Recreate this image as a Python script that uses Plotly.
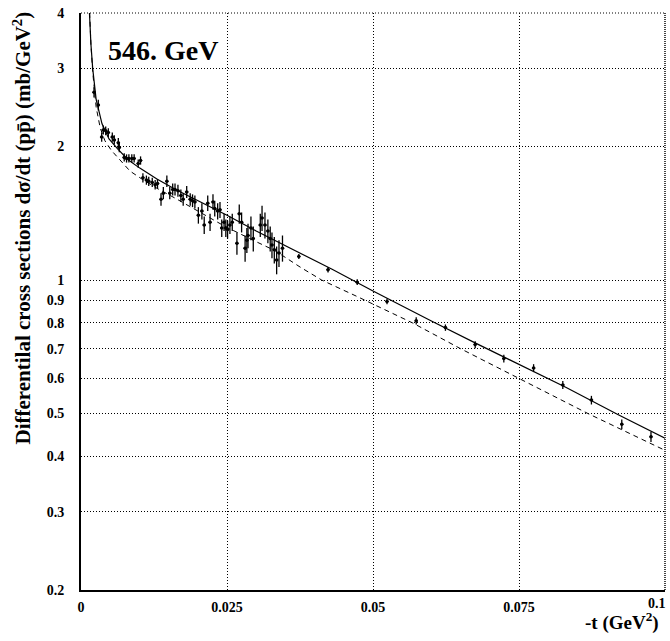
import plotly.graph_objects as go

# ---- data ----
t_data = [0.00223, 0.00296, 0.00354, 0.00382, 0.00423, 0.00468, 0.00536, 0.0057, 0.00639, 0.00656,
          0.0074, 0.0078, 0.0082, 0.0087, 0.0091, 0.0098, 0.0102,
          0.0106, 0.0112, 0.0116, 0.0122, 0.0127, 0.0131, 0.0137, 0.0141, 0.0147, 0.0152,
          0.0157, 0.0161, 0.0166, 0.0171, 0.0175, 0.0181, 0.0187, 0.0191, 0.0195, 0.0201,
          0.0207, 0.0211, 0.0217, 0.0221, 0.0226, 0.0229, 0.0234, 0.0238, 0.0241, 0.0245,
          0.0248, 0.0251, 0.0255, 0.0259, 0.0267, 0.0271, 0.0275, 0.0281, 0.0284, 0.0286,
          0.0291, 0.0295, 0.0307, 0.0310, 0.0315, 0.0320, 0.0324, 0.0327, 0.0331, 0.0335,
          0.0339, 0.0345,
          0.0373, 0.0423, 0.0473, 0.0524, 0.0574, 0.0624, 0.0675, 0.0724, 0.0775, 0.0825,
          0.0874, 0.0926, 0.0976]
y_data = [2.65, 2.48, 2.10, 2.18, 2.17, 2.15, 2.10, 2.07, 2.04, 1.99,
          1.89, 1.88, 1.88, 1.88, 1.88, 1.83, 1.86,
          1.70, 1.68, 1.67, 1.66, 1.64, 1.65, 1.52, 1.57, 1.67, 1.57,
          1.60, 1.60, 1.59, 1.55, 1.52, 1.58, 1.52, 1.51, 1.50, 1.40,
          1.43, 1.33, 1.49, 1.35, 1.50, 1.45, 1.43, 1.44, 1.31, 1.35,
          1.31, 1.30, 1.33, 1.35, 1.21, 1.41, 1.35, 1.18, 1.23, 1.26,
          1.31, 1.24, 1.33, 1.38, 1.33, 1.29, 1.24, 1.20, 1.17, 1.11,
          1.15, 1.18,
          1.13, 1.055, 0.989, 0.895, 0.809, 0.781, 0.715, 0.665, 0.633, 0.580,
          0.536, 0.473, 0.443]
y_err = [0.07, 0.07, 0.05, 0.05, 0.05, 0.05, 0.05, 0.05, 0.05, 0.05,
         0.04, 0.04, 0.04, 0.04, 0.04, 0.04, 0.04,
         0.04, 0.04, 0.04, 0.04, 0.04, 0.04, 0.05, 0.05, 0.05, 0.05,
         0.05, 0.05, 0.05, 0.05, 0.05, 0.05, 0.05, 0.05, 0.05, 0.06,
         0.06, 0.06, 0.06, 0.06, 0.06, 0.06, 0.06, 0.06, 0.06, 0.06,
         0.06, 0.06, 0.06, 0.06, 0.07, 0.07, 0.07, 0.08, 0.08, 0.08,
         0.08, 0.08, 0.08, 0.09, 0.09, 0.08, 0.08, 0.08, 0.08, 0.08,
         0.08, 0.08,
         0.015, 0.015, 0.015, 0.013, 0.015, 0.013, 0.013, 0.013, 0.013, 0.012,
         0.012, 0.012, 0.012]
t_err = [0.0003] * len(t_data)

t_solid = [0.0011, 0.0014, 0.0017, 0.0020, 0.0026, 0.0036, 0.0048, 0.0062, 0.0080, 0.0100,
           0.0130, 0.0162, 0.0200, 0.0250, 0.0300, 0.0334, 0.0378, 0.0430, 0.0500, 0.0527,
           0.0600, 0.0680, 0.0730, 0.0830, 0.0920, 0.1000]
y_solid = [5.0, 4.0, 3.4, 3.0, 2.55, 2.25, 2.08, 1.98, 1.87, 1.79,
           1.69, 1.60, 1.51, 1.40, 1.29, 1.225, 1.145, 1.057, 0.945, 0.905,
           0.808, 0.716, 0.664, 0.573, 0.497, 0.440]

t_dash = [0.0011, 0.0014, 0.0017, 0.0020, 0.0026, 0.0033, 0.0041, 0.0052, 0.0064, 0.0084,
          0.0104, 0.0130, 0.0161, 0.0200, 0.0247, 0.0300, 0.0332, 0.0375, 0.0412, 0.0475,
          0.0568, 0.0650, 0.0749, 0.0868, 0.1000]
y_dash = [5.3, 4.1, 3.4, 2.95, 2.45, 2.2, 2.06, 1.96, 1.88, 1.76,
          1.69, 1.61, 1.53, 1.43, 1.32, 1.22, 1.165, 1.07, 1.00, 0.915,
          0.80, 0.70, 0.600, 0.50, 0.413]

x_ticks = [0, 0.025, 0.05, 0.075, 0.1]
x_ticktext = ["0", "0.025", "0.05", "0.075", ""]   # "0.1" is placed separately so it stays inside the page
x_last_label = "0.1"
y_ticks = [0.2, 0.3, 0.4, 0.5, 0.6, 0.7, 0.8, 0.9, 1, 2, 3, 4]
y_ticktext = ["0.2", "0.3", "0.4", "0.5", "0.6", "0.7", "0.8", "0.9", "1", "2", "3", "4"]

FONT = "Liberation Serif"

W, H = 670, 641
ML, MR, MT, MB = 81, 5, 13, 51
PW, PH = W - ML - MR, H - MT - MB

fig = go.Figure()
fig.add_trace(go.Scatter(x=t_solid, y=y_solid, mode="lines",
                         line=dict(color="black", width=1.2), showlegend=False, hoverinfo="skip"))
fig.add_trace(go.Scatter(x=t_dash, y=y_dash, mode="lines",
                         line=dict(color="black", width=1, dash="5px,4px"), showlegend=False, hoverinfo="skip"))
fig.add_trace(go.Scatter(x=t_data, y=y_data, mode="markers",
                         marker=dict(color="black", size=3.5, symbol="circle"),
                         error_y=dict(type="data", array=y_err, color="black", thickness=1.3, width=0),
                         error_x=dict(type="data", array=t_err, color="black", thickness=1, width=0),
                         showlegend=False))

fig.update_layout(
    width=W, height=H,
    margin=dict(l=ML, r=MR, t=MT, b=MB, autoexpand=False),
    paper_bgcolor="white", plot_bgcolor="white",
    font=dict(family=FONT, color="black"),
    xaxis=dict(range=[0, 0.1], tickvals=x_ticks, ticktext=x_ticktext,
               showgrid=True, gridcolor="black", gridwidth=1, griddash="1px,2px",
               showline=True, linecolor="black", linewidth=2, zeroline=False,
               ticks="", ticklabelstandoff=3, ticklabeloverflow="allow",
               tickfont=dict(family=FONT, size=14, color="black", weight="bold")),
    yaxis=dict(type="log", range=[-0.69897, 0.60206], tickvals=y_ticks, ticktext=y_ticktext,
               showgrid=True, gridcolor="black", gridwidth=1, griddash="1px,2px",
               showline=True, linecolor="black", linewidth=2, zeroline=False,
               ticks="", ticklabelstandoff=12, ticklabeloverflow="allow",
               tickfont=dict(family=FONT, size=14, color="black", weight="bold")),
)

# dotted top and right frame
fig.add_shape(type="line", xref="paper", yref="paper", x0=0, x1=1, y0=1, y1=1,
              line=dict(color="black", width=1, dash="1px,2px"))
fig.add_shape(type="line", xref="paper", yref="paper", x0=1, x1=1, y0=0, y1=1,
              line=dict(color="#444", width=2, dash="1px,1px"))

fig.add_annotation(x=1 + 3 / PW, y=-4 / PH, xref="paper", yref="paper",
                   text="<b>" + x_last_label + "</b>", showarrow=False,
                   xanchor="right", yanchor="top",
                   font=dict(family=FONT, size=14, color="black"))
fig.add_annotation(x=0.0043, y=0.5186, xref="x", yref="y", text="<b>546. GeV</b>",
                   showarrow=False, xanchor="left", yanchor="middle",
                   font=dict(family=FONT, size=28, color="black"))
fig.add_annotation(x=-59 / PW, y=1 + 3 / PH, xref="paper", yref="paper",
                   text="<b>Differentilal cross sections dσ/dt (pp̄) (mb/GeV<sup>2</sup>)</b>",
                   showarrow=False, textangle=-90, xanchor="center", yanchor="top",
                   font=dict(family=FONT, size=21, color="black"))
fig.add_annotation(x=1 - 4 / PW, y=-31 / PH, xref="paper", yref="paper",
                   text="<b>-t (GeV<sup>2</sup>)</b>",
                   showarrow=False, xanchor="right", yanchor="middle",
                   font=dict(family=FONT, size=19, color="black"))

# remove the browser's default 8px page margin so the 670x641 figure fills the window exactly
fig.write_html("out.html",
               config={"displayModeBar": False},
               post_script="document.body.style.margin='0';document.body.style.overflow='hidden';")
